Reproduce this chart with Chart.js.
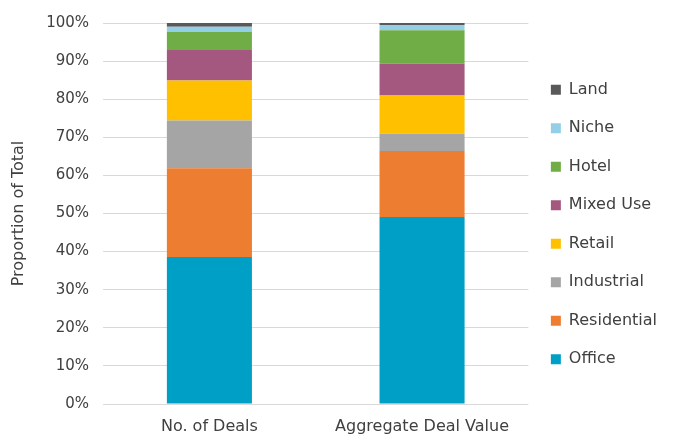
<!DOCTYPE html>
<html>
<head>
<meta charset="utf-8">
<script src="https://cdn.jsdelivr.net/npm/chart.js@4"></script>
<style>
  body { margin: 0; background: #fff; }
  #wrap { width: 679px; height: 438px; position: relative; }
</style>
</head>
<body>
<div id="wrap"><canvas id="chart"></canvas></div>
<script>
'use strict';

let categories = ['No. of Deals', 'Aggregate Deal Value'];

let office = [38.6, 49.1];
let residential = [23.3, 17.3];
let industrial = [12.5, 4.5];
let retail = [10.5, 10.1];
let mixedUse = [8.0, 8.4];
let hotel = [4.8, 8.7];
let niche = [1.3, 1.4];
let land = [1.0, 0.5];

let yTicks = [0, 10, 20, 30, 40, 50, 60, 70, 80, 90, 100];

let canvasElem = document.getElementById('chart');
let fontFamily = '"DejaVu Sans", sans-serif';
let textColor = '#404040';

function makeSet(label, data, color) {
  return {
    label: label,
    data: data,
    backgroundColor: color,
    borderWidth: 0,
    barPercentage: 0.4,
    categoryPercentage: 1.0
  };
}

let chartObj = {
  type: 'bar',
  data: {
    labels: categories,
    datasets: [
      makeSet('Office', office, '#00a0c6'),
      makeSet('Residential', residential, '#ed7d31'),
      makeSet('Industrial', industrial, '#a5a5a5'),
      makeSet('Retail', retail, '#ffc000'),
      makeSet('Mixed Use', mixedUse, '#a5587f'),
      makeSet('Hotel', hotel, '#70ad47'),
      makeSet('Niche', niche, '#93d0e8'),
      makeSet('Land', land, '#595959')
    ]
  },
  options: {
    responsive: true,
    maintainAspectRatio: false,
    animation: false,
    layout: {
      padding: { top: 11, right: 12, bottom: 0, left: 9 }
    },
    plugins: {
      tooltip: { enabled: false },
      legend: {
        position: 'right',
        reverse: true,
        labels: {
          boxWidth: 10,
          boxHeight: 10,
          padding: 22.5,
          color: textColor,
          font: { family: fontFamily, size: 16 }
        }
      }
    },
    scales: {
      x: {
        stacked: true,
        grid: { display: false, drawTicks: false },
        border: { display: false },
        ticks: {
          color: textColor,
          padding: 13,
          font: { family: fontFamily, size: 16 }
        },
        // labels sit lower than chart.js would put them, so keep the axis short
        afterFit: function (scale) {
          scale.height = 34;
        }
      },
      y: {
        stacked: true,
        min: 0,
        max: 100,
        afterBuildTicks: function (axis) {
          axis.ticks = yTicks.map(function (v) { return { value: v }; });
        },
        grid: { color: '#d9d9d9', drawTicks: false },
        border: { display: false },
        ticks: {
          color: textColor,
          padding: 14,
          font: { family: fontFamily, size: 15 },
          callback: function (v) { return v + '%'; }
        },
        title: {
          display: true,
          text: 'Proportion of Total',
          color: textColor,
          padding: { top: 0, bottom: 4 },
          font: { family: fontFamily, size: 16 }
        }
      }
    }
  }
};

new Chart(canvasElem, chartObj);
</script>
</body>
</html>
